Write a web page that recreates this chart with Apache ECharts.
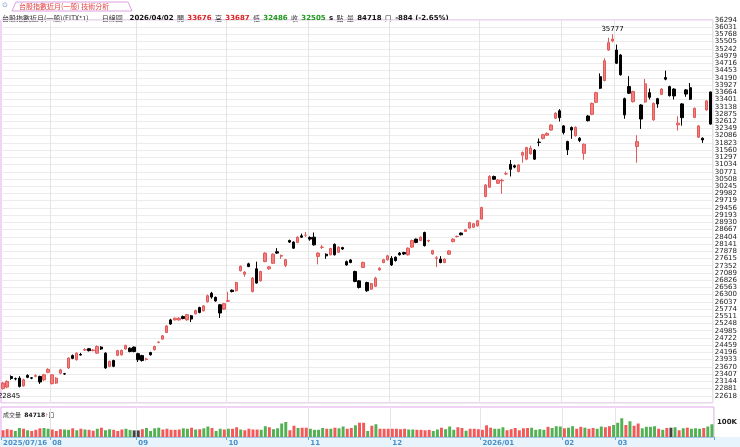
<!DOCTYPE html>
<html><head><meta charset="utf-8">
<script src="https://cdn.jsdelivr.net/npm/echarts@6/dist/echarts.min.js"></script>
<style>html,body{margin:0;padding:0;background:#fff}#c{width:740px;height:447px}</style>
</head><body><div id="c"></div>
<script>
// [open, close, low, high]
const candles = [
[22880,23080,22845,23120],[22935,23140,22900,23180],[23320,23250,23200,23360],[23240,23230,23180,23280],[23260,22960,22920,23330],
[22980,23200,22950,23240],[23360,23290,23260,23400],[23270,23260,23220,23300],[23330,23350,23290,23400],[23320,23120,23050,23350],
[23200,23380,23150,23420],[23470,23580,23440,23620],[23060,23380,23030,23400],[23080,23260,23050,23300],[23440,23560,23400,23600],
[23420,23410,23380,23450],[23630,23990,23600,24020],[24080,23980,23950,24120],[23930,24170,23900,24200],[24120,24100,24080,24180],
[24280,24300,24250,24350],[24330,24260,24230,24350],[24260,24280,24240,24320],[24170,24410,24150,24450],[24390,24320,24290,24420],
[24170,23630,23600,24200],[23690,23870,23660,23900],[23900,23690,23660,23930],[24090,24260,24060,24290],[24110,24270,24080,24300],
[24320,24450,24300,24480],[24350,24230,24200,24380],[24390,24230,24200,24410],[24150,23930,23850,24180],[24080,23900,23860,24110],
[23940,23960,23900,24000],[24190,24110,24080,24220],[24290,24410,24270,24440],[24560,24570,24530,24600],[24680,24800,24660,24830],
[24920,25160,24900,25190],[25380,25230,25200,25420],[25380,25440,25360,25470],[25380,25440,25350,25480],[25500,25430,25400,25540],
[25380,25570,25350,25600],[25530,25410,25300,25560],[25600,25720,25580,25750],[25830,25650,25620,25860],[25710,25890,25690,25920],
[26040,26260,26010,26300],[26350,26210,26150,26400],[26200,26070,26040,26230],[25930,25630,25450,25960],[25770,25970,25740,26000],
[26060,26080,26030,26400],[26460,26410,26380,26490],[26440,26740,26410,26770],[27170,27330,27140,27360],[27040,27120,26950,27150],
[27420,27320,27300,27460],[26410,26900,26380,26940],[27240,26720,26700,27500],[26800,27140,26780,27170],[27500,27810,27480,27840],
[27240,27310,27200,27340],[27440,27770,27420,27800],[27860,27810,27780,27990],[27700,27720,27600,27760],[27360,27570,27300,27600],
[28270,28210,28180,28300],[28210,27990,27960,28240],[28200,28390,28170,28420],[28440,28390,28360,28520],[28460,28460,28400,28580],
[28380,28320,28260,28420],[28390,28110,28080,28560],[27690,27810,27400,27840],[28020,28030,27960,28100],[27770,27710,27600,27800],
[27750,27980,27730,28000],[28130,27750,27720,28160],[27840,28030,27820,28060],[28010,27960,27930,28040],[27500,27380,27350,27540],
[27560,27470,27440,27590],[27140,26780,26750,27170],[26800,26560,26520,26830],[27290,27470,27270,27500],[26740,26440,26400,26770],
[26500,26700,26470,26730],[26600,26900,26580,26950],[27200,27260,27170,27300],[27470,27570,27440,27600],[27570,27710,27540,27750],
[27620,27380,27340,27700],[27660,27540,27500,27690],[27810,27750,27720,27850],[27830,27780,27740,27860],[27750,27990,27720,28020],
[28030,28270,28000,28300],[28320,28200,28170,28340],[28270,28390,28240,28420],[28560,28080,28050,28590],[28250,28270,28200,28300],
[27780,27900,27750,27930],[27620,27640,27300,27700],[27590,27470,27440,27700],[27470,27590,27440,27620],[27770,27890,27740,27920],
[28230,28320,28200,28350],[28410,28420,28380,28450],[28540,28480,28450,28560],[28600,28660,28580,28690],[28720,28920,28700,28950],
[28750,28880,28730,28900],[28800,28990,28780,29020],[29050,29470,29030,29500],[29870,30290,29840,30320],[30210,30600,30180,30650],
[30600,30500,30470,30630],[30350,30470,30330,30500],[30440,30460,29970,30520],[30690,30700,30650,30780],[31040,30860,30600,31200],
[30990,30940,30900,31030],[30780,31020,30750,31050],[31370,31470,31100,31510],[31230,31650,31190,31680],[31420,31630,31400,31720],
[31560,31230,31200,31600],[31850,31840,31700,31980],[31980,32120,31950,32150],[32100,32170,32070,32200],[32290,32470,32260,32500],
[32720,32900,32690,32940],[32990,32740,32600,33050],[32440,32200,32130,32470],[31870,31570,31380,31900],[32380,32290,31970,32420],
[32080,32390,32050,32420],[31990,31910,31850,32030],[31440,31770,31210,31800],[32800,32630,32600,32830],[32860,33260,32830,33290],
[33300,33650,33270,33680],[34230,33810,33780,34350],[34090,34810,34060,34900],[35200,35470,35170,35650],[35530,35600,35480,35777],
[35200,34720,34690,35400],[35020,34300,34270,35050],[33430,32840,32700,33470],[33870,33630,33600,34250],[33320,33690,33290,33720],
[31690,31870,31100,32100],[33200,32690,32330,33230],[33310,33970,33280,34150],[33650,33480,33400,33800],[32660,33260,32630,33290],
[33430,33240,33100,33460],[33590,33780,33560,33810],[34200,34140,34100,34450],[33870,33540,33510,33900],[33780,33530,33400,33810],
[32480,32540,32270,32790],[33240,32740,32450,33270],[33750,33600,33500,33780],[33830,33410,33380,34000],[32750,33080,32720,33110],
[32030,32440,32000,32470],[31990,31930,31820,32020],[33020,33350,32990,33380],[33676,32505,32486,33687]
];
const volumes = [
45,52,48,40,60,55,45,40,48,58,60,55,50,40,52,50,48,58,45,55,
50,48,42,55,62,45,52,48,40,50,55,47,44,44,52,60,40,58,62,50,
55,48,48,50,58,55,62,50,52,58,70,60,40,55,50,55,55,65,50,45,
55,50,50,48,72,65,52,58,90,100,45,75,60,62,62,55,48,48,60,55,
55,62,58,70,55,60,78,95,95,40,75,85,55,55,55,55,55,52,55,50,
50,48,48,45,48,40,50,62,52,70,48,65,60,42,55,55,52,48,78,62,
55,55,65,45,52,60,45,58,60,62,48,52,48,68,60,72,70,58,62,72,
55,68,62,55,60,55,70,65,72,80,95,125,80,105,75,90,58,68,68,72,
55,48,60,62,65,45,58,62,55,58,55,60,70,84.718
];
const volColors = (
'rrrggrgrrrggrrrggrgr'+'grrgrggrrrggkkrggggr'+'rrrrggrgrggrggrgrrgr'+'rrrggrggggrrgrrggggr'+
'grggrrgrrgrgrrrrrrrg'+'grrrrggrgggrrgrrrrrr'+'gggrrrrrrggggrgggrgg'+'rrgrrggrrgggrgrrgggg'+'rgrkgrgrgggrgg').split('');
const monthTicks = {0:'2025/07/16',12:'08',33:'09',55:'10',75:'11',95:'12',117:'2026/01',137:'02',150:'03'};
const splitIdx = [12,33,55,75,95,117,137,150];
const cats = candles.map((_, i) => String(i));
const header = {name:'台股指數近月(一般)(FITX*1)', period:'日線圖', date:'2026/04/02', open:'33676', high:'33687', low:'32486', close:'32505', vol:'84718', chg:'-884 (-2.65%)'};

const colMap = {r:'#f25a5a', g:'#52b152', k:'#444'};
const chart = echarts.init(document.getElementById('c'));
chart.setOption({
  animation:false,
  backgroundColor:'#fff',
  grid:[
    {left:1, right:26, top:20, height:383, show:true, borderColor:'#e2a6ea', borderWidth:1},
    {left:1, right:26, top:407, height:30, show:true, borderColor:'#e2a6ea', borderWidth:1}
  ],
  xAxis:[
    {type:'category', gridIndex:0, data:cats, axisLine:{show:false}, axisTick:{show:false}, axisLabel:{show:false},
     splitLine:{show:true, interval:(i)=>splitIdx.includes(i), lineStyle:{color:'#e4e4e4'}}},
    {type:'category', gridIndex:1, data:cats, axisLine:{show:true, lineStyle:{color:'#9cc8e4'}},
     axisTick:{show:true, interval:(i)=>monthTicks[i]!==undefined, length:3, lineStyle:{color:'#6aa8d0'}},
     axisLabel:{interval:(i)=>monthTicks[i]!==undefined, formatter:(v,i)=>monthTicks[i]||'', fontSize:7, color:'#4a90c8', margin:3,
       fontFamily:'DejaVu Sans', fontWeight:'bold', align:'left'},
     splitLine:{show:true, interval:(i)=>splitIdx.includes(i), lineStyle:{color:'#e4e4e4'}}}
  ],
  yAxis:[
    {type:'value', gridIndex:0, position:'right', min:22355, max:36294, interval:263, scale:true,
     axisLine:{show:false}, axisTick:{show:false},
     axisLabel:{fontSize:7, color:'#222', margin:2, fontFamily:'DejaVu Sans', formatter:(v)=> v<22600?'':String(v)},
     splitLine:{lineStyle:{color:'#ececec'}}},
    {type:'value', gridIndex:1, position:'right', min:0, max:200, interval:100,
     axisLine:{show:false}, axisTick:{show:false},
     axisLabel:{fontSize:7, color:'#222', margin:3, fontFamily:'DejaVu Sans', fontWeight:'bold', formatter:(v)=> v===100?'100K':''},
     splitLine:{show:false}}
  ],
  series:[
    {type:'candlestick', xAxisIndex:0, yAxisIndex:0, data:candles, barWidth:'70%',
     itemStyle:{color:'#f28080', borderColor:'#e05a5a', color0:'#000', borderColor0:'#000', borderWidth:1},
     markPoint:{symbol:'circle', symbolSize:0, data:[
       {coord:[149, candles[149][3]], value:candles[149][3], label:{show:true, position:'top', distance:2, fontSize:7, color:'#000', fontFamily:'DejaVu Sans', formatter:'{c}'}},
       {coord:[0, candles[0][2]], value:candles[0][2], label:{show:true, position:'bottom', distance:3, fontSize:7, color:'#000', fontFamily:'DejaVu Sans', formatter:'{c}', offset:[6,0]}}
     ]}},
    {type:'bar', xAxisIndex:1, yAxisIndex:1, barWidth:'72%',
     data:volumes.map((v,i)=>({value:v, itemStyle:{color:colMap[volColors[i]]||'#f25a5a'}}))}
  ],
  graphic:[
    {type:'rect', left:0, top:437, shape:{width:740, height:10}, style:{fill:'#e8f4fc'}, z:-1},
    {type:'polygon', shape:{points:[[12,11],[16,2],[128,2],[132,11]]}, style:{fill:'#fff', stroke:'#e0a0e0'}},
    {type:'text', left:2, top:2, style:{text:'⊙', fontSize:7, fill:'#7a9ab8'}},
    {type:'text', left:19, top:3, style:{text:'台股指數近月(一般) 技術分析', fontSize:7, fill:'#e04040', fontFamily:'Noto Sans CJK TC'}},
    {type:'text', left:2, top:12, style:{
      text:'{n|'+header.name+'}    {n|'+header.period+'}  {b|'+header.date+'} {n|開} {r|'+header.open+'} {n|高} {r|'+header.high+'} {n|低} {g|'+header.low+'} {n|收} {g|'+header.close+'} {b|s} {n|點} {n|量} {b|'+header.vol+'} {n|口} {b|'+header.chg+'}',
      rich:{
        n:{fontSize:7, fill:'#333', fontFamily:'Noto Sans CJK TC'},
        b:{fontSize:7, fill:'#111', fontWeight:'bold', fontFamily:'DejaVu Sans'},
        r:{fontSize:7, fill:'#e02020', fontWeight:'bold', fontFamily:'DejaVu Sans'},
        g:{fontSize:7, fill:'#1a9a1a', fontWeight:'bold', fontFamily:'DejaVu Sans'}
      }}},
    {type:'text', left:3, top:409, style:{
      text:'{n|成交量} {b|'+header.vol+'}{r|↑}{n|口}',
      rich:{n:{fontSize:6, fill:'#333', fontFamily:'Noto Sans CJK TC'}, b:{fontSize:6, fill:'#111', fontWeight:'bold', fontFamily:'DejaVu Sans'}, r:{fontSize:6, fill:'#e02020', fontWeight:'bold'}}}}
  ]
});
</script></body></html>
